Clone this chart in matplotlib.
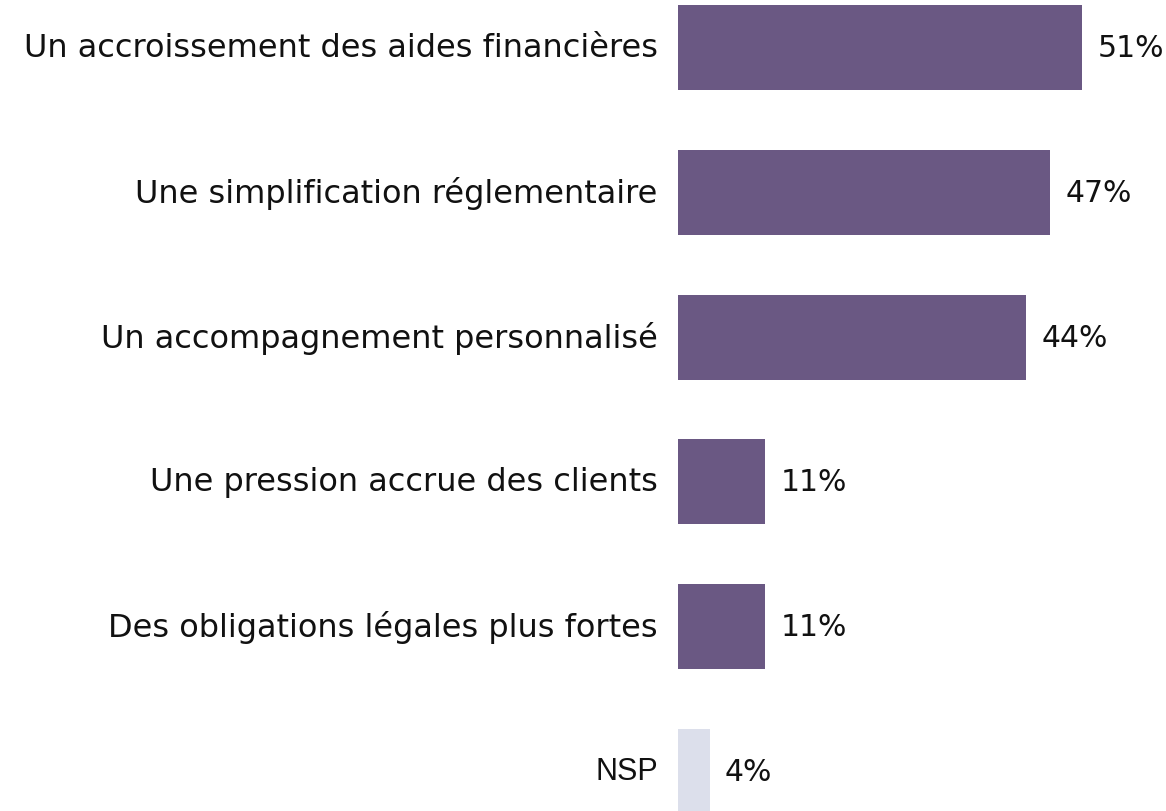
import matplotlib
matplotlib.use("Agg")
import matplotlib.pyplot as plt

categories = [
    "Un accroissement des aides financières",
    "Une simplification réglementaire",
    "Un accompagnement personnalisé",
    "Une pression accrue des clients",
    "Des obligations légales plus fortes",
    "NSP",
]
values = [51, 47, 44, 11, 11, 4]
value_labels = ["51%", "47%", "44%", "11%", "11%", "4%"]
bar_colors = ["#6a5883"] * 5 + ["#dcdfeb"]

fig = plt.figure(figsize=(11.66, 8.12), dpi=100)
ax = fig.add_axes([678 / 1166, 0, 488 / 1166, 1])

ypos = list(range(len(categories)))
ax.barh(ypos, values, height=0.587, color=bar_colors)
ax.set_xlim(0, 488 / 7.92)
ax.set_ylim(5.273, -0.335)
ax.axis("off")

for y, v, lab, cat in zip(ypos, values, value_labels, categories):
    ax.annotate(lab, (v, y), xytext=(11, 0), textcoords="offset points",
                va="center", ha="left", fontsize=21.5, family="DejaVu Sans", color="#111111")
    # NSP is set in an Arial-like face in the original
    if cat == "NSP":
        fam, fs = "Liberation Sans", 22
    else:
        fam, fs = "DejaVu Sans", 23
    ax.annotate(cat, (0, y), xytext=(-14.5, 0), textcoords="offset points",
                va="center", ha="right", fontsize=fs, family=fam, color="#111111")

fig.savefig("out.png", dpi=100)
